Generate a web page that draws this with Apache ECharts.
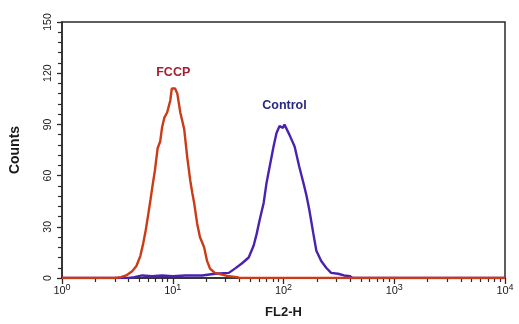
<!DOCTYPE html>
<html>
<head>
<meta charset="utf-8">
<script src="https://cdn.jsdelivr.net/npm/echarts@6/dist/echarts.min.js"></script>
<style>
  html, body { margin: 0; padding: 0; background: #fff; }
  #chart { width: 519px; height: 324px; }
</style>
</head>
<body>
<div id="chart"></div>
<script>
// FL2-H fluorescence histogram (log scale), counts per channel
const fccpFL2 = [1, 3.0, 3.4, 3.8, 4.3, 4.7, 5.1, 5.4, 5.7, 6.0, 6.3, 6.6, 6.9, 7.3, 7.7, 8.0, 8.4, 8.9, 9.5, 9.8, 10.1, 10.5, 11.0, 11.7, 12.2, 12.7, 13.5, 14.4, 15.0, 15.6, 16.6, 17.6, 19.2, 20.4, 21.7, 24.0, 27.8, 32.1, 37.9, 40, 10000];
const fccpCounts = [0, 0, 0.5, 1.5, 4, 7, 13, 20, 28, 37, 46, 55, 63, 76, 80, 88, 94, 97, 104, 111, 112, 111, 108, 97, 92, 87, 71, 57, 50, 44, 32, 24, 18, 10, 5.5, 3, 2, 1, 0.5, 0, 0];

const controlFL2 = [1, 4.0, 4.5, 5.3, 6.5, 8.0, 10, 13, 18.4, 24.0, 32.1, 36.4, 42.0, 48.5, 53.8, 57.3, 60.9, 66.2, 70.4, 74.9, 81.3, 86.5, 92.1, 96.0, 99, 102, 106, 113, 126, 139, 151, 161, 171, 186, 198, 219, 243, 269, 311, 352, 399, 420, 10000];
const controlCounts = [0, 0, 0.5, 1.5, 1, 1.5, 1, 1.5, 1.5, 2.5, 3, 5.5, 8.5, 12, 19, 26, 34, 44, 56, 65, 77, 85, 89, 89, 88, 90, 89, 84, 77, 65, 56, 48.5, 40, 26, 16, 10, 6, 3, 2.5, 1.5, 1, 0, 0];

// axis ticks
const yTicks = [0, 30, 60, 90, 120, 150];
const xDecades = [1, 10, 100, 1000, 10000];

const pairs = (xs, ys) => xs.map((x, i) => [x, ys[i]]);
const minorX = [];
for (let d = 1; d < 10000; d *= 10) {
  for (let k = 2; k <= 9; k++) minorX.push(d * k);
}

const fccpData = pairs(fccpFL2, fccpCounts);
const controlData = pairs(controlFL2, controlCounts);
const peak = data => data.reduce((a, b) => (b[1] > a[1] ? b : a));

const chart = echarts.init(document.getElementById('chart'), null, { renderer: 'canvas' });
chart.setOption({
  animation: false,
  backgroundColor: '#ffffff',
  grid: {
    left: 59, right: 14, top: 22, bottom: 46,
    show: true, borderColor: '#2a2a2a', borderWidth: 1.5, backgroundColor: 'transparent'
  },
  xAxis: [
    {
      type: 'log', logBase: 10, min: 1, max: 10000, position: 'bottom',
      name: 'FL2-H', nameLocation: 'middle', nameGap: 28,
      nameTextStyle: { fontFamily: 'Liberation Sans', fontWeight: 'bold', fontSize: 13, color: '#1a1a1a' },
      axisLine: { show: true, lineStyle: { color: '#2a2a2a', width: 1.5 } },
      axisTick: { show: true, inside: false, length: 6, lineStyle: { color: '#2a2a2a', width: 1.3 }, customValues: xDecades },
      splitLine: { show: false },
      axisLabel: {
        margin: 5,
        customValues: xDecades,
        formatter: v => '{b|10}{s|' + Math.round(Math.log10(v)) + '}',
        rich: {
          b: { fontFamily: 'Liberation Sans', fontSize: 11, color: '#1a1a1a' },
          s: { fontFamily: 'Liberation Sans', fontSize: 9, color: '#1a1a1a', padding: [0, 0, 6, 0] }
        }
      }
    },
    {
      type: 'log', logBase: 10, min: 1, max: 10000, position: 'bottom',
      axisLine: { show: false },
      axisTick: { show: true, length: 4, lineStyle: { color: '#2a2a2a', width: 1.2 }, customValues: minorX },
      axisLabel: { show: false },
      splitLine: { show: false }
    }
  ],
  yAxis: {
    type: 'value', min: 0, max: 150, interval: 30,
    name: 'Counts', nameLocation: 'middle', nameGap: 40, nameRotate: 90,
    nameTextStyle: { fontFamily: 'Liberation Sans', fontWeight: 'bold', fontSize: 14, color: '#1a1a1a' },
    axisLine: { show: true, lineStyle: { color: '#2a2a2a', width: 1.5 } },
    axisTick: { show: true, length: 5, lineStyle: { color: '#2a2a2a', width: 1.3 } },
    minorTick: { show: true, splitNumber: 5, length: 4, lineStyle: { color: '#2a2a2a', width: 1.2 } },
    splitLine: { show: false },
    axisLabel: {
      rotate: 90, margin: 8,
      fontFamily: 'Liberation Sans', fontSize: 10.5, color: '#1a1a1a',
      customValues: yTicks
    }
  },
  series: [
    {
      name: 'Control', type: 'line', showSymbol: false,
      data: controlData,
      lineStyle: { color: '#4a22b2', width: 2.4 },
      z: 3,
      markPoint: {
        symbol: 'circle', symbolSize: 0,
        data: [{ coord: peak(controlData) }],
        label: {
          show: true, formatter: 'Control', offset: [0, -19],
          fontFamily: 'Liberation Sans', fontWeight: 'bold', fontSize: 12.5, color: '#29287f'
        }
      }
    },
    {
      name: 'FCCP', type: 'line', showSymbol: false,
      data: fccpData,
      lineStyle: { color: '#cc3b16', width: 2.4 },
      z: 4,
      markPoint: {
        symbol: 'circle', symbolSize: 0,
        data: [{ coord: peak(fccpData) }],
        label: {
          show: true, formatter: 'FCCP', offset: [0, -14],
          fontFamily: 'Liberation Sans', fontWeight: 'bold', fontSize: 12.5, color: '#a31f2e'
        }
      }
    }
  ]
});
</script>
</body>
</html>
